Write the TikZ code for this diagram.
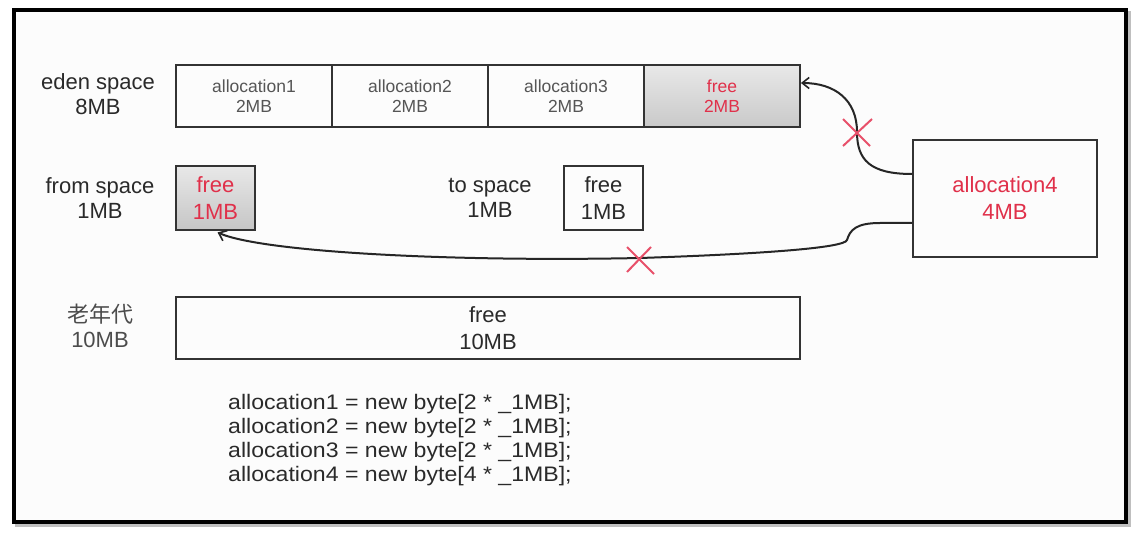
\documentclass[tikz,border=0pt]{standalone}
\usepackage{fontspec}
\setmainfont{Liberation Sans}
\newfontfamily\cjk{Noto Sans CJK SC}
\usetikzlibrary{arrows.meta}
\definecolor{lbl}{HTML}{2A2A2A}
\definecolor{celltxt}{HTML}{555555}
\definecolor{redtxt}{HTML}{E0304A}
\definecolor{xred}{HTML}{E8506A}
\definecolor{edge}{HTML}{333333}
\tikzset{
  lab/.style={text=lbl, align=center, font=\fontsize{22}{25}\selectfont},
  cell/.style={draw=edge, line width=1.8pt, minimum width=156pt, minimum height=62pt, inner sep=0pt, align=center, text=celltxt, font=\fontsize{17.5}{20}\selectfont},
  freecell/.style={cell, top color=gray!18, bottom color=gray!42, text=redtxt},
  bigbox/.style={draw=edge, line width=1.8pt, inner sep=0pt, align=center, text=lbl, font=\fontsize{22}{27}\selectfont},
  conn/.style={draw=black!85, line width=2pt, -{Straight Barb[length=7pt,width=11pt,line width=1.6pt]}},
  xmark/.style={draw=xred, line width=2pt},
  codeline/.style={anchor=west, text=lbl, inner sep=0pt, font=\fontsize{21}{24}\selectfont\addfontfeature{FakeStretch=1.1}}
}
\begin{document}
\begin{tikzpicture}[x=1pt,y=-1pt]
\useasboundingbox (0,0) rectangle (1137,534);
\fill[white] (0,0) rectangle (1137,534);
% frame with shadow
\draw[line width=4pt, gray!50] (17,13) rectangle (1129,525);
\fill[white!98!gray] (14,10) rectangle (1126,522);
\draw[line width=4pt, black] (14,10) rectangle (1126,522);

% eden
\node[lab] (edenl) at (98,94) {eden space\\8MB};
\node[cell] (e1) at (254,96) {allocation1\\2MB};
\node[cell] (e2) at (410,96) {allocation2\\2MB};
\node[cell] (e3) at (566,96) {allocation3\\2MB};
\node[freecell] (e4) at (722,96) {free\\2MB};

% from / to
\node[lab] (froml) at (100,198) {from space\\1MB};
\node[bigbox, minimum width=79pt, minimum height=64pt, top color=gray!18, bottom color=gray!45, text=redtxt] (from) at (215.5,198) {free\\1MB};
\node[lab] (tol) at (490,198) {to space\\1MB};
\node[bigbox, minimum width=79pt, minimum height=64pt] (to) at (603.5,198) {free\\1MB};

% allocation4
\node[bigbox, minimum width=184pt, minimum height=117pt, text=redtxt] (a4) at (1005,198.5) {allocation4\\4MB};

% old generation
\node[lab, text=black!70] (oldl) at (100,326) {{\cjk 老年代}\\10MB};
\node[bigbox, minimum width=624pt, minimum height=62pt] (old) at (488,328) {free\\10MB};

% code
\node[codeline] (c1) at (228,404) {allocation1 = new byte[2 * \_1MB];};
\node[codeline] (c2) at (228,428) {allocation2 = new byte[2 * \_1MB];};
\node[codeline] (c3) at (228,452) {allocation3 = new byte[2 * \_1MB];};
\node[codeline] (c4) at (228,476) {allocation4 = new byte[4 * \_1MB];};

% connectors (canvas yshift is upward)
\draw[conn] ([yshift=24.5pt]a4.west) .. controls (870,174) and (857,160) .. (857,132)
  .. controls (857,100) and (835,83) .. ([yshift=13pt]e4.east);
\draw[conn] ([yshift=-24.5pt]a4.west) -- (880,223) .. controls (856,223) and (850,230) .. (847,240)
  .. controls (845,248) and (760,254) .. (640,258)
  .. controls (450,262) and (262,252) .. ([xshift=2pt,yshift=-1.5pt]from.south);

% red crosses
\draw[xmark] (843,119) -- (870,146) (872,119) -- (843,146);
\draw[xmark] (627,247) -- (654,274) (651,247) -- (627,272);
\end{tikzpicture}
\end{document}
